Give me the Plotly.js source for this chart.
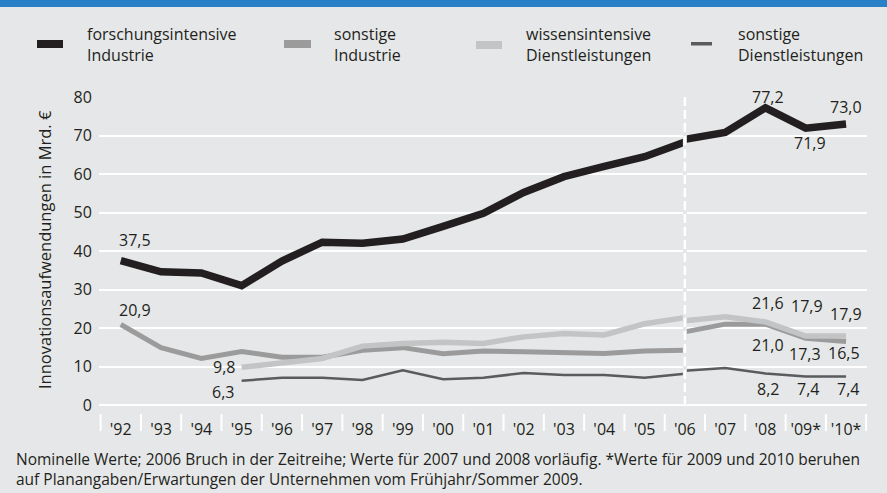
<!DOCTYPE html>
<html>
<head>
<meta charset="utf-8">
<script src="https://cdn.plot.ly/plotly-3.0.1.min.js"></script>
<style>
  html, body { margin: 0; padding: 0; background: #e6e7e8; }
  #chart { width: 887px; height: 493px; }
</style>
</head>
<body>
<div id="chart"></div>
<script>
// ---- Data ----
const years = ["'92","'93","'94","'95","'96","'97","'98","'99","'00","'01","'02","'03","'04","'05","'06","'07","'08","'09*","'10*"];
const yearsOld = years.slice(0, 15);   // '92 – '06 (alte Zeitreihe)
const yearsNew = years.slice(14);      // '06 – '10* (neue Zeitreihe)

const seriesNames = ["forschungsintensive<br>Industrie", "sonstige<br>Industrie", "wissensintensive<br>Dienstleistungen", "sonstige<br>Dienstleistungen"];

const fiOld = [37.5, 34.6, 34.3, 31.0, 37.4, 42.3, 42.0, 43.1, 46.4, 49.8, 55.2, 59.3, 62.0, 64.5, 68.3];
const fiNew = [69.0, 70.8, 77.2, 71.9, 73.0];

const siOld = [20.9, 14.9, 12.1, 13.9, 12.4, 12.4, 14.2, 14.9, 13.3, 14.0, 13.8, 13.6, 13.4, 14.0, 14.2];
const siNew = [19.0, 21.0, 21.0, 17.3, 16.5];

const wdOld = [null, null, null, 9.8, 11.0, 12.1, 15.3, 16.0, 16.3, 16.0, 17.7, 18.6, 18.2, 21.1, 22.7];
const wdNew = [21.9, 22.9, 21.6, 17.9, 17.9];

const sdOld = [null, null, null, 6.3, 7.1, 7.1, 6.5, 9.0, 6.7, 7.1, 8.3, 7.8, 7.8, 7.1, 8.1];
const sdNew = [8.9, 9.6, 8.2, 7.4, 7.4];

const yTickVals = [0, 10, 20, 30, 40, 50, 60, 70, 80];
const yTitle = "Innovationsaufwendungen in Mrd. €";
const footnote = "Nominelle Werte; 2006 Bruch in der Zeitreihe; Werte für 2007 und 2008 vorläufig. *Werte für 2009 und 2010 beruhen<br>auf Planangaben/Erwartungen der Unternehmen vom Frühjahr/Sommer 2009.";

// ---- Styles ----
const BG = "#e6e7e8";
const TXT = "#231f20";
const FONT = "Open Sans, sans-serif";
const styles = [
  { color: "#231f20", width: 7.5 },
  { color: "#9b9b9b", width: 5 },
  { color: "#c3c4c5", width: 5.5 },
  { color: "#5a5b5d", width: 2.5 }
];

// pixel helpers (plot area: x 99..867, y 97..405)
const L = 99, R = 867, T = 97, B = 405;
const px = x => (x - L) / (R - L);
const py = y => (B - y) / (B - T);

// ---- Traces ----
const series = [
  { old: fiOld, nw: fiNew },
  { old: siOld, nw: siNew },
  { old: wdOld, nw: wdNew },
  { old: sdOld, nw: sdNew }
];
const order = [1, 2, 3, 0];
const traces = [];
order.forEach(i => {
  const s = series[i], st = styles[i];
  [[yearsOld, s.old], [yearsNew, s.nw]].forEach(([xs, ys]) => {
    traces.push({
      type: "scatter", mode: "lines", x: xs, y: ys,
      name: seriesNames[i].replace("<br>", " "),
      showlegend: false, hoverinfo: "skip",
      line: { color: st.color, width: st.width, shape: "linear" },
      connectgaps: false
    });
  });
});

// ---- Value labels ----
const fmt = v => v.toFixed(1).replace(".", ",");
const labelSpecs = [
  // [series, which, index, xshift, yshift, xanchor]
  [0, "old", 0, 14, 21, "center"],
  [1, "old", 0, 14, 15, "center"],
  [2, "old", 3, -5, 0, "right"],
  [3, "old", 3, -6, -11, "right"],
  [0, "nw", 2, 3, 11, "center"],
  [0, "nw", 3, 4, -15, "center"],
  [0, "nw", 4, 0, 17, "center"],
  [2, "nw", 2, 3, 19, "center"],
  [2, "nw", 3, 1, 30, "center"],
  [2, "nw", 4, 0, 22, "center"],
  [1, "nw", 2, 3, -21, "center"],
  [1, "nw", 3, -1, -16, "center"],
  [1, "nw", 4, -2, -12, "center"],
  [3, "nw", 2, 3, -16, "center"],
  [3, "nw", 3, 2, -12, "center"],
  [3, "nw", 4, 2, -12, "center"]
];
const annotations = labelSpecs.map(([si, which, idx, xs, ys, xa]) => {
  const arr = which === "old" ? series[si].old : series[si].nw;
  const xarr = which === "old" ? yearsOld : yearsNew;
  return {
    x: xarr[idx], y: arr[idx], xref: "x", yref: "y",
    text: fmt(arr[idx]), showarrow: false,
    xanchor: xa, yanchor: "middle", xshift: xs, yshift: ys,
    font: { family: FONT, size: 16, color: TXT }
  };
});

// legend texts
const legendTextX = [87, 334, 526, 738];
seriesNames.forEach((n, i) => {
  annotations.push({
    xref: "paper", yref: "paper", x: px(legendTextX[i] - 2), y: py(44.5),
    xanchor: "left", yanchor: "middle", align: "left",
    text: n, showarrow: false,
    font: { family: FONT, size: 16, color: TXT }
  });
});

// y axis title
annotations.push({
  xref: "paper", yref: "paper", x: px(44), y: py(250),
  xanchor: "center", yanchor: "middle", textangle: -90,
  text: yTitle, showarrow: false,
  font: { family: FONT, size: 16.5, color: TXT }
});

// footnote
annotations.push({
  xref: "paper", yref: "paper", x: px(14), y: py(468.5),
  xanchor: "left", yanchor: "middle", align: "left",
  text: footnote, showarrow: false,
  font: { family: FONT, size: 15.5, color: TXT }
});

// ---- Shapes ----
const shapes = [];
// top blue bar
shapes.push({ type: "rect", xref: "paper", yref: "paper", x0: px(0), x1: px(887), y0: py(0), y1: py(7),
  fillcolor: "#2a80c6", line: { width: 0 }, layer: "above" });
// legend swatches
const swatches = [[37, 63, 40, 48], [284, 311, 40, 48], [476, 502, 41, 49], [691, 712, 42, 45.5]];
swatches.forEach(([x0, x1, y0, y1], i) => {
  shapes.push({ type: "rect", xref: "paper", yref: "paper", x0: px(x0), x1: px(x1), y0: py(y0), y1: py(y1),
    fillcolor: styles[i].color, line: { width: 0 } });
});
// category separators below the axis
for (let i = 0; i <= years.length; i++) {
  shapes.push({ type: "line", xref: "x", yref: "paper", x0: i - 0.5, x1: i - 0.5, y0: py(414), y1: py(431),
    line: { color: "#ffffff", width: 2 } });
}
// break in time series at 2006
shapes.push({ type: "line", xref: "x", yref: "paper", x0: yearsNew[0], x1: yearsNew[0], y0: 0, y1: 1,
  line: { color: BG, width: 4 }, layer: "above" });
shapes.push({ type: "line", xref: "x", yref: "paper", x0: yearsNew[0], x1: yearsNew[0], y0: 0, y1: 1,
  line: { color: "#ffffff", width: 2.5, dash: "9px,4px" }, layer: "above" });

const layout = {
  width: 887, height: 493,
  margin: { l: L, r: 887 - R, t: T, b: 493 - B, pad: 0 },
  paper_bgcolor: BG, plot_bgcolor: BG,
  showlegend: false,
  font: { family: FONT, color: TXT },
  xaxis: {
    type: "category", categoryorder: "array", categoryarray: years,
    range: [-0.54, 18.52],
    showgrid: false, zeroline: false, showline: false,
    ticks: "outside", ticklen: 10, tickcolor: "rgba(0,0,0,0)",
    tickfont: { family: FONT, size: 16, color: TXT },
    fixedrange: true
  },
  yaxis: {
    range: [0, 80], tickvals: yTickVals,
    showgrid: true, gridcolor: "#ffffff", gridwidth: 2,
    zeroline: true, zerolinecolor: "#ffffff", zerolinewidth: 2,
    showline: false, ticks: "outside", ticklen: 3, tickcolor: "rgba(0,0,0,0)",
    tickfont: { family: FONT, size: 16, color: TXT },
    fixedrange: true
  },
  annotations: annotations,
  shapes: shapes
};

Plotly.newPlot("chart", traces, layout, { displayModeBar: false, staticPlot: true });
</script>
</body>
</html>
